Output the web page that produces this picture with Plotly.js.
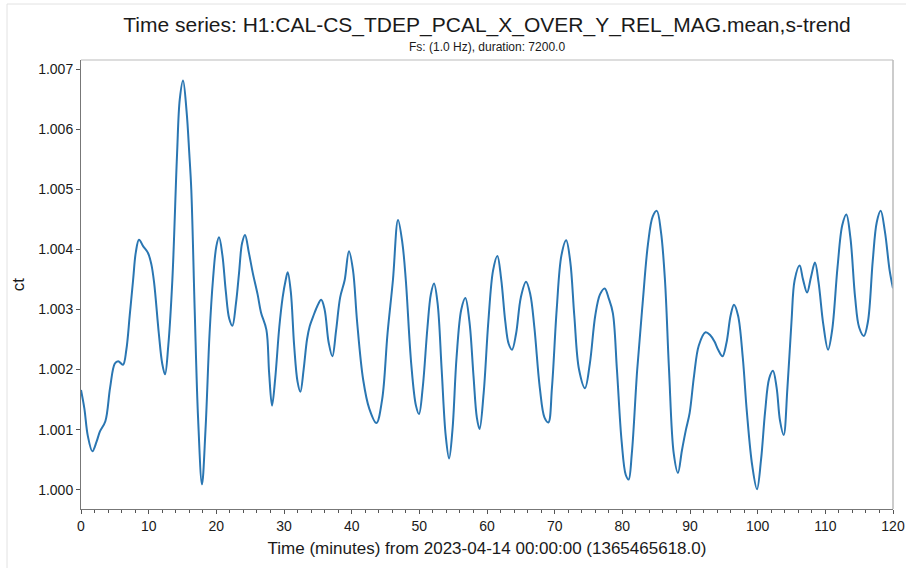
<!DOCTYPE html>
<html>
<head>
<meta charset="utf-8">
<script src="https://cdn.plot.ly/plotly-3.0.1.min.js"></script>
<style>html,body{margin:0;padding:0;background:#fff;}#chart{width:906px;height:568px;}</style>
</head>
<body>
<div id="chart"></div>
<script>
const minutes = [0,0.5,1.0,1.68,2.3,2.8,3.6,4.3,5.0,5.5,6.2,6.7,7.2,7.7,8.1,8.57,9.2,9.9,10.4,10.8,11.5,12.0,12.42,12.9,13.5,14.2,14.6,15.08,15.6,16.0,16.3,16.8,17.3,17.88,18.4,19.0,19.5,20.0,20.4,20.9,21.4,21.9,22.37,22.9,23.35,23.8,24.24,24.8,25.4,26.1,26.6,27.4,27.8,28.23,28.7,29.3,29.8,30.25,30.55,31.0,31.5,32.0,32.42,32.9,33.4,33.8,34.3,34.9,35.5,36.0,36.6,37.15,37.7,38.3,38.97,39.6,40.2,40.8,41.7,42.6,43.65,44.5,45.3,46.1,46.85,47.5,48.0,48.8,49.5,49.95,50.5,51.2,51.7,52.17,52.7,53.3,53.9,54.4,54.9,55.5,56.2,56.8,57.4,58.0,58.5,58.9,59.5,60.2,60.9,61.53,62.1,62.7,63.2,63.7,64.3,65.0,65.77,66.4,67.0,67.8,68.5,69.07,69.6,70.3,71.0,71.7,72.3,72.9,73.6,74.48,75.2,76.0,76.7,77.39,78.0,78.6,79.2,79.9,80.5,80.93,81.4,82.2,83.0,83.8,84.5,85.1,85.7,86.3,86.9,87.6,88.22,88.8,89.4,89.95,90.6,91.3,92.3,93.0,93.6,94.2,94.8,95.4,96.0,96.5,97.1,97.8,98.4,99.2,99.9,100.5,101.1,101.7,102.26,102.8,103.3,103.84,104.4,105.0,105.47,106.2,106.7,107.3,107.9,108.47,109.0,109.7,110.4,111.0,111.8,112.5,113.1,113.7,114.4,115.0,115.7,116.3,117.0,117.6,118.18,118.8,119.5,120.0];
const values = [1.00166,1.00135,1.00090,1.00064,1.00080,1.00097,1.00114,1.00170,1.00210,1.00214,1.00208,1.00233,1.00290,1.00349,1.00395,1.00416,1.00405,1.00394,1.00375,1.00345,1.00260,1.00210,1.00192,1.00240,1.00349,1.00560,1.00650,1.00681,1.00630,1.00560,1.00499,1.00300,1.00120,1.00009,1.00100,1.00260,1.00349,1.00405,1.00420,1.00390,1.00330,1.00285,1.00273,1.00310,1.00360,1.00410,1.00424,1.00395,1.00360,1.00325,1.00295,1.00266,1.00195,1.00140,1.00185,1.00270,1.00320,1.00349,1.00362,1.00330,1.00240,1.00180,1.00163,1.00200,1.00250,1.00272,1.00288,1.00305,1.00316,1.00300,1.00245,1.00222,1.00265,1.00320,1.00349,1.00397,1.00365,1.00280,1.00183,1.00135,1.00111,1.00150,1.00260,1.00349,1.00449,1.00410,1.00349,1.00210,1.00140,1.00126,1.00170,1.00270,1.00325,1.00343,1.00310,1.00200,1.00090,1.00052,1.00100,1.00220,1.00300,1.00319,1.00280,1.00190,1.00120,1.00101,1.00160,1.00280,1.00365,1.00389,1.00350,1.00280,1.00243,1.00233,1.00260,1.00320,1.00346,1.00325,1.00270,1.00170,1.00120,1.00112,1.00170,1.00300,1.00390,1.00415,1.00380,1.00290,1.00200,1.00169,1.00210,1.00290,1.00325,1.00335,1.00318,1.00294,1.00200,1.00080,1.00025,1.00017,1.00060,1.00200,1.00310,1.00410,1.00455,1.00464,1.00430,1.00349,1.00200,1.00060,1.00028,1.00065,1.00100,1.00128,1.00190,1.00240,1.00262,1.00257,1.00247,1.00232,1.00222,1.00245,1.00290,1.00308,1.00290,1.00220,1.00130,1.00040,1.00001,1.00050,1.00130,1.00185,1.00198,1.00170,1.00115,1.00091,1.00170,1.00280,1.00349,1.00373,1.00350,1.00328,1.00355,1.00378,1.00345,1.00275,1.00233,1.00265,1.00370,1.00440,1.00458,1.00420,1.00320,1.00270,1.00256,1.00280,1.00380,1.00445,1.00464,1.00430,1.00365,1.00335];
const xTicks = [0,10,20,30,40,50,60,70,80,90,100,110,120];
const yTicks = [1.000,1.001,1.002,1.003,1.004,1.005,1.006,1.007];
const yTickText = ['1.000','1.001','1.002','1.003','1.004','1.005','1.006','1.007'];
const titleText = 'Time series: H1:CAL-CS_TDEP_PCAL_X_OVER_Y_REL_MAG.mean,s-trend';
const subtitleText = 'Fs: (1.0 Hz), duration: 7200.0';
const xTitle = 'Time (minutes) from 2023-04-14 00:00:00 (1365465618.0)';
const yTitle = 'ct';

const FONT = '"Liberation Sans", Arial, sans-serif';
const L = 81, R = 893, T = 60, B = 509, W = 906, H = 568;
const pw = R - L, ph = B - T;
const px = x => (x - L) / pw;
const py = y => (B - y) / ph;

const trace = {
  x: minutes, y: values, type: 'scatter', mode: 'lines',
  line: {color: '#2a76b2', width: 2, shape: 'spline', smoothing: 1},
  hoverinfo: 'skip'
};

const layout = {
  width: W, height: H,
  margin: {l: L, r: W - R, t: T, b: H - B, pad: 0},
  paper_bgcolor: '#ffffff', plot_bgcolor: '#ffffff',
  showlegend: false,
  font: {family: FONT, color: '#1a1a1a', size: 13},
  title: {text: titleText, font: {family: FONT, size: 21, color: '#1a1a1a'}, x: px(487), xref: 'paper', xanchor: 'center', y: 1 - 25/H, yanchor: 'middle'},
  xaxis: {
    range: [0, 120], tickmode: 'array', tickvals: xTicks, ticktext: xTicks.map(String),
    showgrid: false, zeroline: false, showline: true, linecolor: '#777', linewidth: 1,
    ticks: 'outside', ticklen: 4, tickcolor: '#555', tickwidth: 1,
    minor: {dtick: 2, ticks: 'outside', ticklen: 2.5, tickcolor: '#555', showgrid: false},
    tickfont: {family: FONT, size: 14, color: '#1a1a1a'},
    title: {text: xTitle, font: {family: FONT, size: 17, color: '#1a1a1a'}, standoff: 9},
    mirror: false
  },
  yaxis: {
    range: [0.99968, 1.00715], tickmode: 'array', tickvals: yTicks, ticktext: yTickText,
    showgrid: false, zeroline: false, showline: true, linecolor: '#777', linewidth: 1,
    ticks: 'outside', ticklen: 4, tickcolor: '#555', tickwidth: 1,
    tickfont: {family: FONT, size: 14, color: '#1a1a1a'},
    title: {text: yTitle, font: {family: FONT, size: 17, color: '#1a1a1a'}, standoff: 9}
  },
  annotations: [
    {text: subtitleText, xref: 'paper', yref: 'paper', x: px(487), y: py(47), xanchor: 'center', yanchor: 'middle', showarrow: false, font: {family: FONT, size: 12, color: '#1a1a1a'}}
  ],
  shapes: [
    {type: 'line', xref: 'paper', yref: 'paper', x0: 0, x1: 1, y0: 1, y1: 1, line: {color: '#bbbbbb', width: 1}},
    {type: 'line', xref: 'paper', yref: 'paper', x0: 1, x1: 1, y0: 0, y1: 1, line: {color: '#bbbbbb', width: 1.5}},
    {type: 'line', xref: 'paper', yref: 'paper', x0: px(7), x1: px(906), y0: py(4), y1: py(4), line: {color: '#e2e2e2', width: 1}},
    {type: 'line', xref: 'paper', yref: 'paper', x0: px(7), x1: px(7), y0: py(4), y1: py(568), line: {color: '#e2e2e2', width: 1}}
  ]
};

Plotly.newPlot('chart', [trace], layout, {displayModeBar: false, staticPlot: true});
</script>
</body>
</html>
